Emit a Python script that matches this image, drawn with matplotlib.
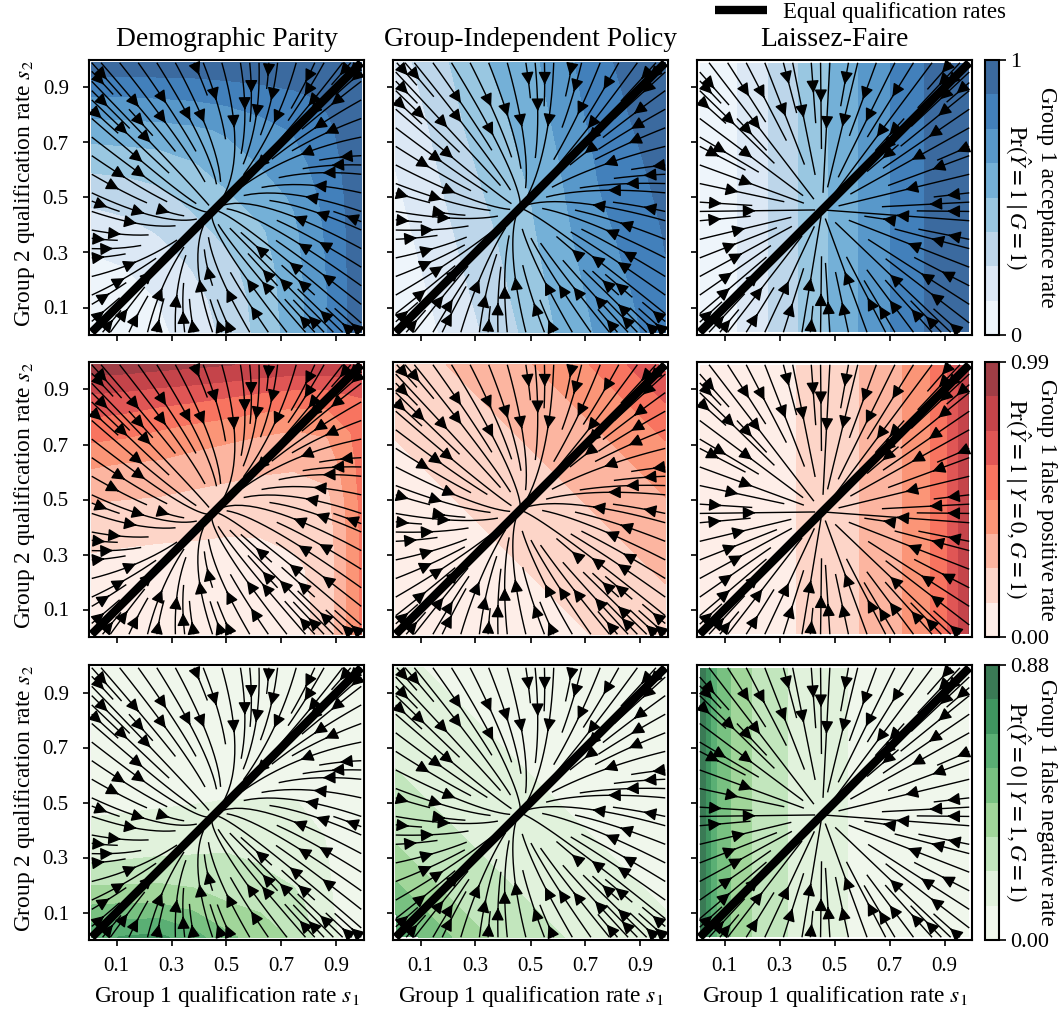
import numpy as np
import matplotlib
matplotlib.use("Agg")
import matplotlib.pyplot as plt

plt.rcParams['font.family'] = ['Liberation Serif', 'DejaVu Serif']
plt.rcParams['mathtext.fontset'] = 'stix'

# --- grids: rows go from s2 = 0.01 to s2 = 0.99 ---
GRID_FIELD = np.linspace(0.01, 0.99, 5)
GRID_Z = np.linspace(0.01, 0.99, 9)

# --- direction of the dynamics (read from the streamlines) ---
u_dp = [[0.44, 0.07, -0.30, -0.66, -1.03],
        [0.56, 0.20, -0.17, -0.54, -0.91],
        [0.69, 0.32, -0.05, -0.42, -0.79],
        [0.81, 0.44, 0.07, -0.30, -0.66],
        [0.93, 0.56, 0.20, -0.17, -0.54]]
v_dp = [[0.44, 0.56, 0.69, 0.81, 0.93],
        [0.07, 0.20, 0.32, 0.44, 0.56],
        [-0.30, -0.17, -0.05, 0.07, 0.20],
        [-0.66, -0.54, -0.42, -0.30, -0.17],
        [-1.03, -0.91, -0.79, -0.66, -0.54]]
u_gi = [[0.45, 0.14, -0.16, -0.47, -0.78],
        [0.51, 0.21, -0.10, -0.41, -0.71],
        [0.57, 0.27, -0.04, -0.35, -0.65],
        [0.63, 0.33, 0.02, -0.29, -0.59],
        [0.70, 0.39, 0.08, -0.22, -0.53]]
v_gi = [[0.45, 0.51, 0.57, 0.63, 0.70],
        [0.14, 0.21, 0.27, 0.33, 0.39],
        [-0.16, -0.10, -0.04, 0.02, 0.08],
        [-0.47, -0.41, -0.35, -0.29, -0.22],
        [-0.78, -0.71, -0.65, -0.59, -0.53]]
u_lf = [[0.445, 0.20, -0.045, -0.29, -0.535],
        [0.445, 0.20, -0.045, -0.29, -0.535],
        [0.445, 0.20, -0.045, -0.29, -0.535],
        [0.445, 0.20, -0.045, -0.29, -0.535],
        [0.445, 0.20, -0.045, -0.29, -0.535]]
v_lf = [[0.445, 0.445, 0.445, 0.445, 0.445],
        [0.20, 0.20, 0.20, 0.20, 0.20],
        [-0.045, -0.045, -0.045, -0.045, -0.045],
        [-0.29, -0.29, -0.29, -0.29, -0.29],
        [-0.535, -0.535, -0.535, -0.535, -0.535]]

# --- rates, as a fraction of the colourbar maximum ---
acc_dp = [[0.00, 0.04, 0.10, 0.18, 0.28, 0.41, 0.56, 0.75, 0.96],
          [0.04, 0.08, 0.13, 0.21, 0.30, 0.42, 0.57, 0.75, 0.96],
          [0.10, 0.13, 0.19, 0.26, 0.34, 0.44, 0.58, 0.76, 0.96],
          [0.18, 0.21, 0.26, 0.33, 0.41, 0.48, 0.60, 0.77, 0.96],
          [0.28, 0.30, 0.34, 0.41, 0.48, 0.56, 0.64, 0.79, 0.96],
          [0.41, 0.42, 0.44, 0.49, 0.56, 0.63, 0.70, 0.82, 0.96],
          [0.56, 0.57, 0.58, 0.60, 0.64, 0.70, 0.76, 0.85, 0.97],
          [0.75, 0.75, 0.76, 0.77, 0.79, 0.82, 0.85, 0.90, 0.97],
          [0.96, 0.96, 0.96, 0.96, 0.97, 0.97, 0.98, 0.99, 1.00]]
acc_gi = [[0.01, 0.10, 0.195, 0.30, 0.415, 0.53, 0.64, 0.72, 0.83],
          [0.03, 0.125, 0.224, 0.33, 0.44, 0.55, 0.665, 0.745, 0.85],
          [0.06, 0.15, 0.253, 0.355, 0.46, 0.575, 0.69, 0.77, 0.87],
          [0.08, 0.175, 0.28, 0.38, 0.48, 0.60, 0.71, 0.795, 0.885],
          [0.105, 0.20, 0.31, 0.41, 0.50, 0.62, 0.74, 0.82, 0.905],
          [0.13, 0.225, 0.34, 0.44, 0.525, 0.64, 0.76, 0.845, 0.925],
          [0.15, 0.25, 0.37, 0.465, 0.545, 0.665, 0.785, 0.87, 0.94],
          [0.175, 0.275, 0.395, 0.49, 0.57, 0.69, 0.81, 0.895, 0.96],
          [0.20, 0.30, 0.425, 0.52, 0.59, 0.71, 0.835, 0.92, 0.98]]
fpr_dp = [[0.00, 0.01, 0.015, 0.02, 0.03, 0.04, 0.07, 0.18, 0.52],
          [0.05, 0.05, 0.05, 0.05, 0.05, 0.06, 0.07, 0.18, 0.52],
          [0.10, 0.09, 0.09, 0.09, 0.08, 0.09, 0.10, 0.18, 0.52],
          [0.16, 0.15, 0.14, 0.135, 0.13, 0.13, 0.16, 0.19, 0.52],
          [0.26, 0.25, 0.24, 0.22, 0.21, 0.20, 0.20, 0.22, 0.53],
          [0.385, 0.36, 0.35, 0.32, 0.29, 0.27, 0.26, 0.29, 0.54],
          [0.55, 0.53, 0.49, 0.45, 0.42, 0.39, 0.37, 0.39, 0.55],
          [0.72, 0.70, 0.67, 0.65, 0.62, 0.58, 0.55, 0.55, 0.62],
          [0.95, 0.94, 0.92, 0.90, 0.88, 0.86, 0.84, 0.84, 0.85]]
fpr_gi = [[0.00, 0.025, 0.05, 0.07, 0.09, 0.11, 0.13, 0.17, 0.20],
          [0.025, 0.05, 0.07, 0.09, 0.11, 0.13, 0.17, 0.20, 0.23],
          [0.05, 0.07, 0.09, 0.11, 0.13, 0.17, 0.20, 0.23, 0.27],
          [0.07, 0.09, 0.11, 0.13, 0.17, 0.20, 0.23, 0.27, 0.32],
          [0.09, 0.11, 0.13, 0.17, 0.20, 0.23, 0.27, 0.32, 0.37],
          [0.11, 0.13, 0.17, 0.20, 0.23, 0.27, 0.32, 0.37, 0.44],
          [0.13, 0.17, 0.20, 0.23, 0.27, 0.32, 0.37, 0.44, 0.52],
          [0.17, 0.20, 0.23, 0.27, 0.32, 0.37, 0.44, 0.52, 0.64],
          [0.20, 0.23, 0.27, 0.32, 0.37, 0.44, 0.52, 0.64, 0.78]]
fnr_dp = [[0.72, 0.76, 0.78, 0.68, 0.53, 0.44, 0.36, 0.16, 0.05],
          [0.49, 0.50, 0.50, 0.45, 0.38, 0.35, 0.30, 0.14, 0.05],
          [0.27, 0.28, 0.29, 0.29, 0.29, 0.26, 0.20, 0.13, 0.05],
          [0.17, 0.18, 0.19, 0.20, 0.21, 0.19, 0.17, 0.12, 0.04],
          [0.09, 0.10, 0.11, 0.12, 0.13, 0.13, 0.13, 0.09, 0.03],
          [0.05, 0.05, 0.06, 0.07, 0.08, 0.08, 0.08, 0.06, 0.02],
          [0.03, 0.03, 0.03, 0.04, 0.05, 0.05, 0.05, 0.04, 0.02],
          [0.02, 0.02, 0.02, 0.02, 0.02, 0.03, 0.03, 0.02, 0.01],
          [0.00, 0.00, 0.00, 0.00, 0.00, 0.01, 0.01, 0.01, 0.00]]
fnr_gi = [[0.68, 0.60, 0.45, 0.35, 0.30, 0.25, 0.22, 0.18, 0.15],
          [0.60, 0.45, 0.35, 0.30, 0.25, 0.22, 0.18, 0.15, 0.12],
          [0.45, 0.35, 0.30, 0.25, 0.22, 0.18, 0.15, 0.12, 0.10],
          [0.35, 0.30, 0.25, 0.22, 0.18, 0.15, 0.12, 0.10, 0.08],
          [0.30, 0.25, 0.22, 0.18, 0.15, 0.12, 0.10, 0.08, 0.06],
          [0.25, 0.22, 0.18, 0.15, 0.12, 0.10, 0.08, 0.06, 0.05],
          [0.22, 0.18, 0.15, 0.12, 0.10, 0.08, 0.06, 0.05, 0.03],
          [0.18, 0.15, 0.12, 0.10, 0.08, 0.06, 0.05, 0.03, 0.02],
          [0.15, 0.12, 0.10, 0.08, 0.06, 0.05, 0.03, 0.02, 0.00]]

# laissez-faire only depends on s1: value at each s1 break
lf_acc_s1 = [0.01, 0.145, 0.259, 0.367, 0.475, 0.584, 0.70, 0.825, 0.99]
lf_acc = [0.0, 0.125, 0.25, 0.375, 0.5, 0.625, 0.75, 0.875, 1.0]
lf_fpr_s1 = [0.01, 0.36, 0.59, 0.745, 0.846, 0.91, 0.948, 0.985, 0.99]
lf_fpr = [0.0, 0.125, 0.25, 0.375, 0.5, 0.625, 0.75, 0.875, 1.0]
lf_fnr_s1 = [0.01, 0.034, 0.052, 0.074, 0.125, 0.20, 0.33, 0.55, 0.99]
lf_fnr = [1.0, 0.875, 0.75, 0.625, 0.5, 0.375, 0.25, 0.125, 0.0]
lf_s2 = [0.01, 0.99]

titles = ["Demographic Parity", "Group-Independent Policy", "Laissez-Faire"]
band_colors = [
    ["#eef5fb", "#dce8f5", "#bdd6ea", "#99c7e1", "#74b0d7", "#5898ca", "#4280bb", "#3b6a9f"],
    ["#feeee8", "#fdd5c8", "#fcb5a0", "#fb9577", "#f87460", "#e05655", "#c5444a", "#a03d45"],
    ["#f0f7ec", "#e1f2dc", "#c2e6bd", "#a1d69a", "#78c181", "#5aaf74", "#3f9560", "#3a7a55"],
]
vmaxs = [1, 0.99, 0.88]
cbar_ticklabels = [["0", "1"], ["0.00", "0.99"], ["0.00", "0.88"]]
rate_labels = ["Group 1 acceptance rate", "Group 1 false positive rate", "Group 1 false negative rate"]
pr_labels = [
    r"$\mathrm{Pr}(\hat{Y}=1\mid G=1)$",
    r"$\mathrm{Pr}(\hat{Y}=1\mid Y=0,G=1)$",
    r"$\mathrm{Pr}(\hat{Y}=0\mid Y=1,G=1)$",
]
ticks = [0.1, 0.3, 0.5, 0.7, 0.9]
equal_s = [0.01, 0.99]

fields = [(u_dp, v_dp), (u_gi, v_gi), (u_lf, v_lf)]
tables = [[acc_dp, acc_gi], [fpr_dp, fpr_gi], [fnr_dp, fnr_gi]]
lf_tables = [(lf_acc_s1, lf_acc), (lf_fpr_s1, lf_fpr), (lf_fnr_s1, lf_fnr)]

W, H = 1062, 1009
fig = plt.figure(figsize=(W / 100, H / 100), dpi=100)

col_left = [89, 393, 697]
row_top = [60, 362, 665]
PANEL = 275


def px_axes(left, top, width, height):
    return fig.add_axes([left / W, 1 - (top + height) / H, width / W, height / H])


line = None
for r in range(3):
    levels = np.linspace(0, vmaxs[r], 9)
    for c in range(3):
        ax = px_axes(col_left[c], row_top[r], PANEL, PANEL)
        if c < 2:
            z = np.array(tables[r][c]) * vmaxs[r]
            cs = ax.contourf(GRID_Z, GRID_Z, z, levels=levels, colors=band_colors[r])
        else:
            s1, vals = lf_tables[r]
            z = np.array([vals, vals]) * vmaxs[r]
            cs = ax.contourf(s1, lf_s2, z, levels=levels, colors=band_colors[r])
        ax.streamplot(GRID_FIELD, GRID_FIELD, np.array(fields[c][0]), np.array(fields[c][1]),
                      color='k', linewidth=1.0, arrowsize=1.9, density=1.0)
        line, = ax.plot(equal_s, equal_s, color='k', lw=6, solid_capstyle='butt',
                        label="Equal qualification rates")
        ax.set_xlim(0, 1)
        ax.set_ylim(0, 1)
        ax.set_xticks(ticks)
        ax.set_yticks(ticks)
        ax.tick_params(labelsize=15, length=4.5, width=1.2,
                       labelleft=(c == 0), labelbottom=(r == 2))
        ax.tick_params(axis='x', pad=7.5)
        ax.tick_params(axis='y', pad=10)
        for sp in ax.spines.values():
            sp.set_linewidth(1.5)
        if r == 0:
            ax.set_title(titles[c], fontsize=19.8, pad=10)
        if r == 2:
            ax.set_xlabel(r"Group 1 qualification rate $s_1$", fontsize=16.8)
            ax.xaxis.set_label_coords(0.5, -0.16)
        if c == 0:
            ax.set_ylabel(r"Group 2 qualification rate $s_2$", fontsize=16.8)
            ax.yaxis.set_label_coords(-0.19, 0.516)

    cax = px_axes(985, row_top[r], 14, PANEL)
    cb = fig.colorbar(cs, cax=cax, ticks=[0, vmaxs[r]])
    cb.ax.set_yticklabels(cbar_ticklabels[r])
    cb.ax.tick_params(labelsize=16, length=5, width=1.2, pad=3)
    cb.outline.set_linewidth(1.5)
    mid = 1 - (row_top[r] + PANEL / 2) / H
    fig.text(1047 / W, mid, rate_labels[r], rotation=270, fontsize=16.4, ha='center', va='center')
    fig.text(1018 / W, mid, pr_labels[r], rotation=270, fontsize=16.4, ha='center', va='center')

fig.legend(handles=[line], loc='upper left', bbox_to_anchor=(715 / W, 1 - 2 / H), frameon=False,
           fontsize=16.4, handlelength=2.28, handletextpad=0.7, borderaxespad=0, borderpad=0)

fig.savefig("out.png", dpi=100)
